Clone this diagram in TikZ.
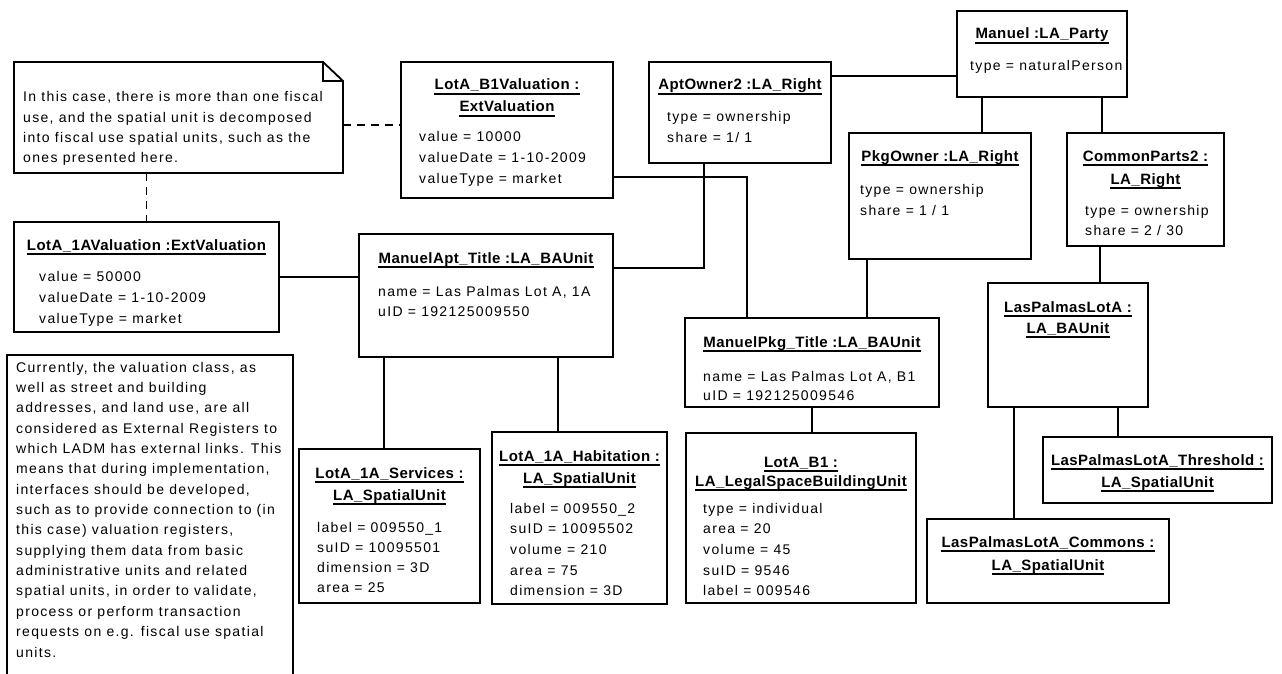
\documentclass[tikz,border=0pt]{standalone}
\usepackage{fontspec}
\setmainfont{Liberation Sans}
\newfontfamily\attrf{Liberation Sans}[LetterSpace=9.5]
\newfontfamily\titlef{Liberation Sans}[LetterSpace=3]
\newcommand\umlbox[5]{\node[box, minimum width={#4-#2}, minimum height={#5-#3}] (#1) at (#2,#3) {};}
\newcommand\attrlines[5]{\foreach \t [count=\i from 0] in {#5} {\node[att] (#1-\i) at (#2,{#3+\i*#4}) {\t};}}
\begin{document}
\begin{tikzpicture}[x=1pt,y=-1pt,
  box/.style={rectangle, draw, fill=white, line width=1.8pt, inner sep=0pt, outer sep=0pt, anchor=north west},
  notearea/.style={rectangle, inner sep=0pt, outer sep=0pt, anchor=north west},
  boxline/.style={line width=1.8pt, line join=miter},
  tt/.style={font=\titlef\bfseries\fontsize{15}{18}\selectfont, inner sep=0pt, anchor=base,
    append after command={([yshift=-4pt]\tikzlastnode.base west) edge[line width=1.2pt] ([yshift=-4pt]\tikzlastnode.base east)}},
  att/.style={font=\attrf\fontsize{14}{17}\selectfont, inner sep=0pt, anchor=base west},
  conn/.style={line width=1.5pt},
  dconn/.style={line width=1.5pt, dash pattern=on 8pt off 6pt}]
\useasboundingbox (0,0) rectangle (1282,674);
\fill[white] (0,0) rectangle (1282,674);

% boxes (geometry)
\node[notearea, minimum width=329, minimum height=111] (n1) at (14,62) {};
\umlbox{b1v}{401}{62}{613}{198}
\umlbox{apt}{649}{62}{831}{163}
\umlbox{man}{957}{11}{1127}{97}
\umlbox{pkg}{849}{133}{1031}{259}
\umlbox{cp}{1067}{133}{1224}{246}
\umlbox{v1a}{14}{222}{279}{332}
\umlbox{mapt}{359}{234}{613}{357}
\umlbox{mpkg}{685}{318}{939}{407}
\umlbox{lpl}{988}{283}{1148}{407}
\umlbox{thr}{1043}{437}{1272}{503}
\umlbox{cmn}{927}{519}{1169}{603}
\umlbox{svc}{299}{449}{480}{603}
\umlbox{hab}{492}{432}{667}{604}
\umlbox{lb1}{686}{433}{916}{603}
\node[box, minimum width=286, minimum height=330] (n2) at (7,355) {};

% note 1 with folded corner
\draw[boxline, fill=white] (n1.north west) -- ([xshift=-20pt]n1.north east) -- ([yshift=-19pt]n1.north east) -- (n1.south east) -- (n1.south west) -- cycle;
\draw[boxline] ([xshift=-20pt]n1.north east) -- ([xshift=-20pt,yshift=-19pt]n1.north east) -- ([yshift=-19pt]n1.north east);

% connectors
\draw[dconn] (n1.east |- 0,125) -- (b1v.west |- 0,125);
\draw[dconn] (n1.south -| v1a.north) -- (v1a.north);
\draw[conn] (v1a.east |- 0,277) -- (mapt.west |- 0,277);
\draw[conn] (mapt.east |- 0,268) -| (apt.south -| 704,0);
\draw[conn] (b1v.east |- 0,177) -| (mpkg.north -| 747,0);
\draw[conn] (apt.east |- 0,76) -- (man.west |- 0,76);
\draw[conn] (man.south -| 982,0) -- (pkg.north -| 982,0);
\draw[conn] (man.south -| 1102,0) -- (cp.north -| 1102,0);
\draw[conn] (pkg.south -| 867,0) -- (mpkg.north -| 867,0);
\draw[conn] (cp.south -| 1100,0) -- (lpl.north -| 1100,0);
\draw[conn] (mapt.south -| 384,0) -- (svc.north -| 384,0);
\draw[conn] (mapt.south -| 558,0) -- (hab.north -| 558,0);
\draw[conn] (mpkg.south -| 812,0) -- (lb1.north -| 812,0);
\draw[conn] (lpl.south -| 1014,0) -- (cmn.north -| 1014,0);
\draw[conn] (lpl.south -| 1118,0) -- (thr.north -| 1118,0);

% titles
\node[tt] (b1v-t1) at (507,90) {LotA\_B1Valuation :};
\node[tt] (b1v-t2) at (507,112) {ExtValuation};
\node[tt] (apt-t1) at (740,90) {AptOwner2 :LA\_Right};
\node[tt] (man-t1) at (1042,39) {Manuel :LA\_Party};
\node[tt] (pkg-t1) at (940,161) {PkgOwner :LA\_Right};
\node[tt] (cp-t1) at (1145.5,161) {CommonParts2 :};
\node[tt] (cp-t2) at (1145.5,184) {LA\_Right};
\node[tt] (v1a-t1) at (146.5,250) {LotA\_1AValuation :ExtValuation};
\node[tt] (mapt-t1) at (486,263) {ManuelApt\_Title :LA\_BAUnit};
\node[tt] (mpkg-t1) at (812,347) {ManuelPkg\_Title :LA\_BAUnit};
\node[tt] (lpl-t1) at (1068,312) {LasPalmasLotA :};
\node[tt] (lpl-t2) at (1068,333) {LA\_BAUnit};
\node[tt] (thr-t1) at (1157.5,465) {LasPalmasLotA\_Threshold :};
\node[tt] (thr-t2) at (1157.5,487) {LA\_SpatialUnit};
\node[tt] (cmn-t1) at (1048,547) {LasPalmasLotA\_Commons :};
\node[tt] (cmn-t2) at (1048,570) {LA\_SpatialUnit};
\node[tt] (svc-t1) at (389.5,478) {LotA\_1A\_Services :};
\node[tt] (svc-t2) at (389.5,500) {LA\_SpatialUnit};
\node[tt] (hab-t1) at (579.5,461) {LotA\_1A\_Habitation :};
\node[tt] (hab-t2) at (579.5,483) {LA\_SpatialUnit};
\node[tt] (lb1-t1) at (801,467) {LotA\_B1 :};
\node[tt] (lb1-t2) at (801,486) {LA\_LegalSpaceBuildingUnit};

% attributes
\attrlines{b1va}{419}{142}{20.5}{value = 10000, valueDate = 1-10-2009, valueType = market}
\attrlines{apta}{667}{122}{20.7}{type = ownership, share = 1/ 1}
\attrlines{mana}{970}{71}{20.7}{type = naturalPerson}
\attrlines{pkga}{860}{194}{21}{type = ownership, share = 1 / 1}
\attrlines{cpa}{1085}{215}{20}{type = ownership, share = 2 / 30}
\attrlines{v1aa}{39}{281}{21}{value = 50000, valueDate = 1-10-2009, valueType = market}
\attrlines{mapta}{378}{296}{20}{{name = Las Palmas Lot A, 1A}, uID = 192125009550}
\attrlines{mpkga}{703}{381}{19}{{name = Las Palmas Lot A, B1}, uID = 192125009546}
\attrlines{svca}{317}{532}{20}{label = 009550\_1, suID = 10095501, dimension = 3D, area = 25}
\attrlines{haba}{510}{513}{20.7}{label = 009550\_2, suID = 10095502, volume = 210, area = 75, dimension = 3D}
\attrlines{lb1a}{703}{513}{20.7}{type = individual, area = 20, volume = 45, suID = 9546, label = 009546}

% note texts
\attrlines{n1a}{23}{102}{20.3}{{In this case, there is more than one fiscal}, {use, and the spatial unit is decomposed}, {into fiscal use spatial units, such as the}, {ones presented here.}}
\attrlines{n2a}{16}{372}{20.36}{{Currently, the valuation class, as}, {well as street and building}, {addresses, and land use, are all}, {considered as External Registers to}, {which LADM has external links. This}, {means that during implementation,}, {interfaces should be developed,}, {such as to provide connection to (in}, {this case) valuation registers,}, {supplying them data from basic}, {administrative units and related}, {spatial units, in order to validate,}, {process or perform transaction}, {requests on e.g. fiscal use spatial}, {units.}}
\end{tikzpicture}
\end{document}
